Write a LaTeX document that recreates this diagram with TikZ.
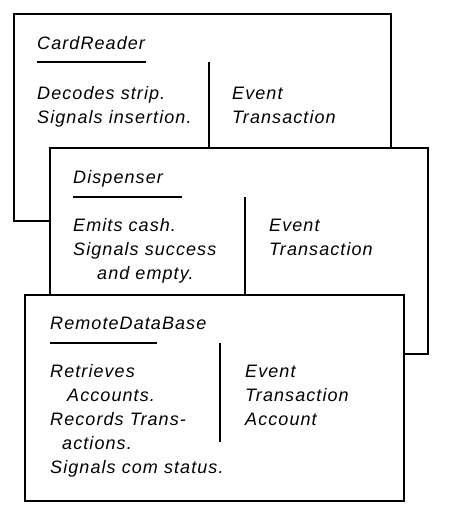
\documentclass[tikz,border=0pt]{standalone}
\usepackage{fontspec}
\setmainfont{Liberation Sans}[LetterSpace=6]
\usepackage{tikz}
\usetikzlibrary{positioning}

\begin{document}
\begin{tikzpicture}[x=1pt, y=-1pt,
  card/.style={draw, fill=white, line width=2pt, outer sep=0pt, anchor=north west, minimum width=378pt, minimum height=206pt},
  cardname/.style={anchor=base west, inner sep=0pt, font=\fontsize{18}{24}\selectfont\itshape},
  duty/.style={anchor=base west, inner sep=0pt, align=left, font=\fontsize{18}{24}\selectfont\itshape},
  rule/.style={line width=2pt}]
\fill[white] (0,0) rectangle (450,519);
\useasboundingbox (0,0) rectangle (450,519);
% CardReader (base of a duty node = its last line)
\node[card, minimum width=377pt, minimum height=207pt] (reader) at (14,14) {};
\node[cardname] (readername) at ([shift={(23,36)}]reader.north west) {CardReader};
\draw[rule] ([yshift=-12pt]readername.base west) -- ++(109,0);
\draw[rule] ([shift={(195,48)}]reader.north west) -- ++(0,99);
\node[duty] (readerjobs) at ([shift={(23,109)}]reader.north west) {Decodes strip.\\Signals insertion.};
\node[duty] (readerpals) at ([shift={(218,109)}]reader.north west) {Event\\Transaction};
% Dispenser
\node[card] (disp) at (50,148) {};
\node[cardname] (dispname) at ([shift={(23,35)}]disp.north west) {Dispenser};
\draw[rule] ([yshift=-14pt]dispname.base west) -- ++(109,0);
\draw[rule] ([shift={(195,49)}]disp.north west) -- ++(0,99);
\node[duty] (dispjobs) at ([shift={(23,131)}]disp.north west) {Emits cash.\\Signals success\\\hspace*{24pt}and empty.};
\node[duty] (disppals) at ([shift={(219,107)}]disp.north west) {Event\\Transaction};
% RemoteDataBase
\node[card, minimum width=379pt] (remote) at (25,295) {};
\node[cardname] (remotename) at ([shift={(25,34)}]remote.north west) {RemoteDataBase};
\draw[rule] ([yshift=-14pt]remotename.base west) -- ++(107,0);
\draw[rule] ([shift={(195,48)}]remote.north west) -- ++(0,99);
\node[duty] (remotejobs) at ([shift={(25,178)}]remote.north west) {Retrieves\\\hspace*{17pt}Accounts.\\Records Trans-\\\hspace*{12pt}actions.\\Signals com status.};
\node[duty] (remotepals) at ([shift={(220,130)}]remote.north west) {Event\\Transaction\\Account};
\end{tikzpicture}
\end{document}
